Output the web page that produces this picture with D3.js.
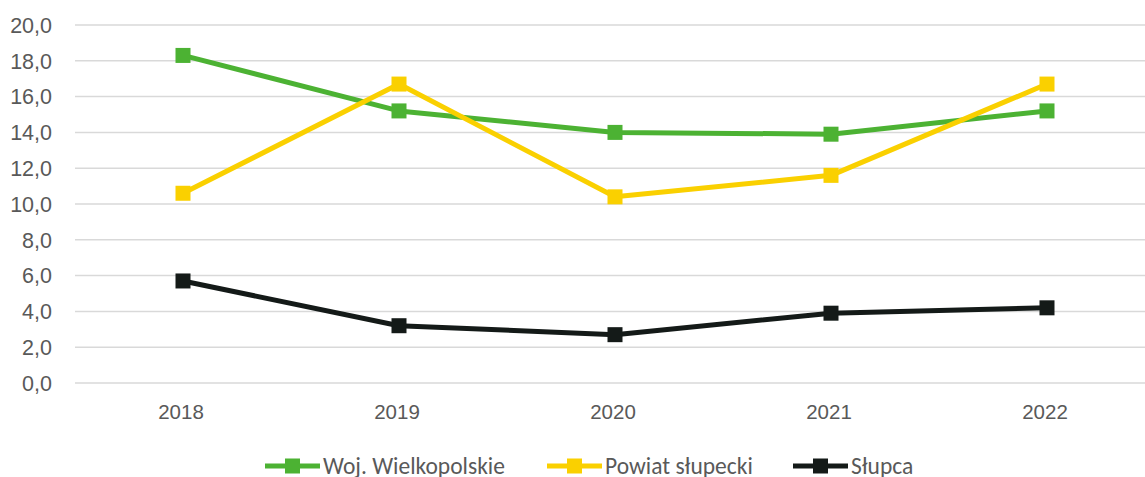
<!DOCTYPE html>
<html>
<head>
<meta charset="utf-8">
<script src="https://cdn.jsdelivr.net/npm/d3@7"></script>
<style>
  html, body { margin: 0; padding: 0; background: #fff; }
  svg { display: block; font-family: Carlito, "Open Sans", "Liberation Sans", sans-serif; }
</style>
</head>
<body>
<svg id="chart" width="1145" height="477"></svg>
<script>
// Years on the category axis
const years = ["2018", "2019", "2020", "2021", "2022"];

// Series values per year
const wojWielkopolskie = [18.3, 15.2, 14.0, 13.9, 15.2];
const powiatSlupecki   = [10.6, 16.7, 10.4, 11.6, 16.7];
const slupca           = [5.7, 3.2, 2.7, 3.9, 4.2];

// Value axis ticks
const yTicks = [0, 2, 4, 6, 8, 10, 12, 14, 16, 18, 20];

const seriesNames  = ["Woj. Wielkopolskie", "Powiat słupecki", "Słupca"];
const seriesColors = ["#4cb233", "#fad000", "#141a18"];
const seriesData   = [wojWielkopolskie, powiatSlupecki, slupca];

const series = seriesNames.map((name, i) => ({
  name, color: seriesColors[i],
  values: years.map((yr, j) => ({ year: yr, value: seriesData[i][j] }))
}));

const svg = d3.select("#chart");
const plot = { left: 75, right: 1155, top: 25, bottom: 383 };
const labelColor = "#595959";

const x = d3.scaleBand().domain(years).range([plot.left, plot.right]);
const y = d3.scaleLinear().domain([0, 20]).range([plot.bottom, plot.top]);

// Horizontal gridlines
svg.append("g")
  .selectAll("line")
  .data(yTicks)
  .join("line")
  .attr("x1", plot.left).attr("x2", 1145)
  .attr("y1", d => y(d)).attr("y2", d => y(d))
  .attr("stroke", "#d9d9d9").attr("stroke-width", 1.5);

// Value axis labels
const fmt = d => d3.format(".1f")(d).replace(".", ",");
const yAxis = d3.axisLeft(y).tickValues(yTicks).tickFormat(fmt).tickSize(0).tickPadding(0);
const yg = svg.append("g").attr("transform", "translate(52,0)").call(yAxis);
yg.select(".domain").remove();
yg.selectAll("text")
  .attr("fill", labelColor).attr("font-size", 21.5).attr("font-family", null)
  .attr("dy", "0.34em");

// Category axis labels
const xAxis = d3.axisBottom(x).tickSize(0).tickPadding(0);
const xg = svg.append("g").attr("transform", `translate(-2,${plot.bottom + 21})`).call(xAxis);
xg.select(".domain").remove();
xg.selectAll("text")
  .attr("fill", labelColor).attr("font-size", 20.5).attr("font-family", null)
  .attr("dy", "0.71em");

const cx = d => x(d.year) + x.bandwidth() / 2;
const line = d3.line().x(cx).y(d => y(d.value));

const mk = 15;
series.forEach(s => {
  const g = svg.append("g");
  g.append("path")
    .attr("d", line(s.values))
    .attr("fill", "none")
    .attr("stroke", s.color)
    .attr("stroke-width", 5)
    .attr("stroke-linejoin", "round");
  g.selectAll("rect")
    .data(s.values)
    .join("rect")
    .attr("x", d => cx(d) - mk / 2)
    .attr("y", d => y(d.value) - mk / 2)
    .attr("width", mk).attr("height", mk)
    .attr("fill", s.color);
});

// Legend
const legendX = [265, 547, 793];
const legendY = 466;
const lg = svg.append("g");
series.forEach((s, i) => {
  const g = lg.append("g").attr("transform", `translate(${legendX[i]},${legendY})`);
  g.append("line").attr("x1", 0).attr("x2", 55).attr("y1", 0).attr("y2", 0)
    .attr("stroke", s.color).attr("stroke-width", 5);
  g.append("rect").attr("x", 27.5 - mk / 2).attr("y", -mk / 2)
    .attr("width", mk).attr("height", mk).attr("fill", s.color);
  g.append("text").attr("x", 58).attr("y", 0).attr("dy", "0.36em")
    .attr("fill", labelColor).attr("font-size", 23.5).text(s.name);
});
</script>
</body>
</html>
